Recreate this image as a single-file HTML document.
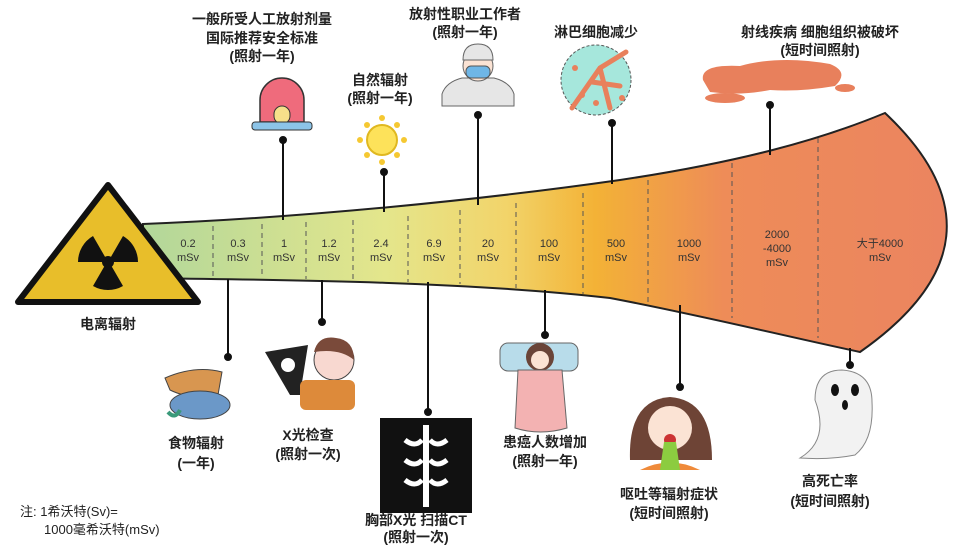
<!DOCTYPE html>
<html><head><meta charset="utf-8"><style>
html,body{margin:0;padding:0;background:#fff;width:962px;height:546px;overflow:hidden}
svg{display:block}
text{font-family:"Liberation Sans","Noto Sans CJK SC",sans-serif;fill:#222}
.t{font-size:14px;font-weight:bold;text-anchor:middle}
.s{font-size:11px;text-anchor:middle;fill:#333}
</style></head><body>
<svg width="962" height="546" viewBox="0 0 962 546" xmlns="http://www.w3.org/2000/svg">
<defs>
<linearGradient id="g" x1="143" y1="0" x2="950" y2="0" gradientUnits="userSpaceOnUse">
<stop offset="0" stop-color="#b2d79a"/>
<stop offset="0.3" stop-color="#e4e68c"/>
<stop offset="0.45" stop-color="#f2d46a"/>
<stop offset="0.56" stop-color="#f3b236"/>
<stop offset="0.72" stop-color="#ee8c58"/>
<stop offset="1" stop-color="#eb8460"/>
</linearGradient>
</defs>
<!-- funnel -->
<path d="M143,224 C300,218 480,200 620,180 C740,162 820,140 885,113 Q1020,240 860,352 C780,335 700,315 610,298 C470,282 300,280 143,278 Z" fill="url(#g)" stroke="#222" stroke-width="2"/>
<g stroke="#555" stroke-width="1" stroke-dasharray="5,4">
<line x1="213" y1="226" x2="213" y2="278"/><line x1="262" y1="224" x2="262" y2="278"/>
<line x1="306" y1="222" x2="306" y2="279"/><line x1="353" y1="220" x2="353" y2="280"/>
<line x1="408" y1="216" x2="408" y2="282"/><line x1="460" y1="210" x2="460" y2="284"/>
<line x1="516" y1="203" x2="516" y2="288"/><line x1="583" y1="193" x2="583" y2="294"/>
<line x1="648" y1="180" x2="648" y2="302"/><line x1="732" y1="163" x2="732" y2="318"/>
<line x1="818" y1="138" x2="818" y2="338"/>
</g>
<g class="s">
<text x="188" y="247" class="s">0.2</text><text x="188" y="261" class="s">mSv</text>
<text x="238" y="247" class="s">0.3</text><text x="238" y="261" class="s">mSv</text>
<text x="284" y="247" class="s">1</text><text x="284" y="261" class="s">mSv</text>
<text x="329" y="247" class="s">1.2</text><text x="329" y="261" class="s">mSv</text>
<text x="381" y="247" class="s">2.4</text><text x="381" y="261" class="s">mSv</text>
<text x="434" y="247" class="s">6.9</text><text x="434" y="261" class="s">mSv</text>
<text x="488" y="247" class="s">20</text><text x="488" y="261" class="s">mSv</text>
<text x="549" y="247" class="s">100</text><text x="549" y="261" class="s">mSv</text>
<text x="616" y="247" class="s">500</text><text x="616" y="261" class="s">mSv</text>
<text x="689" y="247" class="s">1000</text><text x="689" y="261" class="s">mSv</text>
<text x="777" y="238" class="s">2000</text><text x="777" y="252" class="s">-4000</text><text x="777" y="266" class="s">mSv</text>
<text x="880" y="247" class="s">大于4000</text><text x="880" y="261" class="s">mSv</text>
</g>
<!-- trefoil -->
<polygon points="108,185 198,302 18,302" fill="#e8be2a" stroke="#111" stroke-width="6" stroke-linejoin="round"/>
<g fill="#111">
<circle cx="108" cy="262" r="6"/>
<path d="M108,262 L93,236 A30,30 0 0 0 78,262 Z"/>
<path d="M108,262 L123,236 A30,30 0 0 1 138,262 Z"/>
<path d="M108,262 L93,288 A30,30 0 0 0 123,288 Z" transform="translate(0,-2)"/>
</g>
<text x="108" y="329" class="t">电离辐射</text>
<!-- connectors -->
<g stroke="#111" stroke-width="2" fill="#111">
<line x1="283" y1="140" x2="283" y2="220"/><circle cx="283" cy="140" r="3"/>
<line x1="384" y1="172" x2="384" y2="212"/><circle cx="384" cy="172" r="3"/>
<line x1="478" y1="115" x2="478" y2="205"/><circle cx="478" cy="115" r="3"/>
<line x1="612" y1="123" x2="612" y2="184"/><circle cx="612" cy="123" r="3"/>
<line x1="770" y1="105" x2="770" y2="155"/><circle cx="770" cy="105" r="3"/>
<line x1="228" y1="279" x2="228" y2="357"/><circle cx="228" cy="357" r="3"/>
<line x1="322" y1="280" x2="322" y2="322"/><circle cx="322" cy="322" r="3"/>
<line x1="428" y1="282" x2="428" y2="412"/><circle cx="428" cy="412" r="3"/>
<line x1="545" y1="290" x2="545" y2="335"/><circle cx="545" cy="335" r="3"/>
<line x1="680" y1="305" x2="680" y2="387"/><circle cx="680" cy="387" r="3"/>
<line x1="850" y1="348" x2="850" y2="365"/><circle cx="850" cy="365" r="3"/>
</g>
<!-- top labels -->
<text x="262" y="24" class="t">一般所受人工放射剂量</text>
<text x="262" y="43" class="t">国际推荐安全标准</text>
<text x="262" y="61" class="t">(照射一年)</text>
<text x="380" y="85" class="t">自然辐射</text>
<text x="380" y="103" class="t">(照射一年)</text>
<text x="465" y="19" class="t">放射性职业工作者</text>
<text x="465" y="37" class="t">(照射一年)</text>
<text x="596" y="37" class="t">淋巴细胞减少</text>
<text x="820" y="37" class="t">射线疾病 细胞组织被破坏</text>
<text x="820" y="55" class="t">(短时间照射)</text>
<!-- siren -->
<path d="M260,122 L260,100 A22,22 0 0 1 304,100 L304,122 Z" fill="#ef6b7c" stroke="#333" stroke-width="1.5"/>
<rect x="274" y="106" width="16" height="18" rx="8" fill="#f6e08a" stroke="#333"/>
<rect x="252" y="122" width="60" height="8" rx="3" fill="#8cc4e8" stroke="#333"/>
<!-- sun -->
<circle cx="382" cy="140" r="15" fill="#fde25a" stroke="#e0b820" stroke-width="2"/>
<g fill="#f5c832"><circle cx="382" cy="118" r="3"/><circle cx="382" cy="162" r="3"/><circle cx="360" cy="140" r="3"/><circle cx="404" cy="140" r="3"/><circle cx="367" cy="125" r="3"/><circle cx="397" cy="125" r="3"/><circle cx="367" cy="155" r="3"/><circle cx="397" cy="155" r="3"/></g>
<!-- worker -->
<path d="M442,106 L442,94 Q446,82 462,78 L494,78 Q510,82 514,94 L514,106 Z" fill="#e6e6e6" stroke="#666"/>
<circle cx="478" cy="66" r="15" fill="#fbe3d4" stroke="#666"/>
<path d="M463,60 Q463,44 478,44 Q493,44 493,60 Z" fill="#e6e6e6" stroke="#666"/>
<rect x="466" y="66" width="24" height="12" rx="5" fill="#6fb6e6" stroke="#555"/>
<!-- cells -->
<circle cx="596" cy="80" r="35" fill="#a6e7dc" stroke="#555" stroke-dasharray="3,2"/>
<path d="M572,108 L600,68 L626,52 M592,82 L620,86 M600,68 L610,108" stroke="#e8805c" stroke-width="5" fill="none" stroke-linecap="round"/>
<g fill="#e8805c"><circle cx="575" cy="68" r="3"/><circle cx="582" cy="95" r="3"/><circle cx="622" cy="98" r="3"/><circle cx="596" cy="103" r="3"/></g>
<!-- blob -->
<path d="M703,80 Q700,64 740,66 Q780,55 830,64 Q850,72 835,86 Q800,92 770,90 Q740,96 710,92 Z" fill="#e8805c"/>
<ellipse cx="725" cy="98" rx="20" ry="5" fill="#e8805c"/><ellipse cx="845" cy="88" rx="10" ry="4" fill="#e8805c"/>
<!-- fish -->
<path d="M165,378 Q195,365 222,372 L218,395 Q190,400 170,390 Z" fill="#d89650" stroke="#444"/>
<ellipse cx="200" cy="405" rx="30" ry="14" fill="#6b98c8" stroke="#444"/>
<path d="M168,412 Q175,420 180,410" stroke="#3a9a7a" stroke-width="4" fill="none"/>
<text x="196" y="448" class="t">食物辐射</text><text x="196" y="468" class="t">(一年)</text>
<!-- xray check -->
<path d="M265,352 L308,345 L300,395 L290,395 Z" fill="#222"/>
<circle cx="288" cy="365" r="7" fill="#fff"/>
<circle cx="334" cy="360" r="20" fill="#f8d8d0" stroke="#444"/>
<path d="M314,352 Q318,335 336,338 Q354,340 354,360 Q340,348 314,352" fill="#7a4a3a"/>
<rect x="300" y="380" width="55" height="30" rx="6" fill="#dd8a3a"/>
<text x="308" y="440" class="t">X光检查</text><text x="308" y="459" class="t">(照射一次)</text>
<!-- chest xray -->
<rect x="380" y="418" width="92" height="95" fill="#111"/>
<rect x="423" y="425" width="6" height="82" fill="#fff"/>
<g stroke="#fff" stroke-width="5" fill="none"><path d="M405,440 Q415,448 422,440"/><path d="M430,440 Q437,448 447,440"/><path d="M405,460 Q415,468 422,460"/><path d="M430,460 Q437,468 447,460"/><path d="M405,480 Q415,488 422,480"/><path d="M430,480 Q437,488 447,480"/></g>
<text x="416" y="525" class="t">胸部X光 扫描CT</text><text x="416" y="542" class="t">(照射一次)</text>
<!-- sick -->
<rect x="500" y="343" width="78" height="28" rx="8" fill="#b8dcea" stroke="#666"/>
<circle cx="540" cy="357" r="14" fill="#6a4438"/>
<circle cx="540" cy="360" r="9" fill="#fbe3d4"/>
<path d="M518,370 L562,370 L567,428 Q540,436 515,428 Z" fill="#f3b2b2" stroke="#666"/>
<text x="545" y="447" class="t">患癌人数增加</text><text x="545" y="466" class="t">(照射一年)</text>
<!-- vomit -->
<path d="M630,460 Q628,400 670,397 Q712,400 712,460 Z" fill="#6e4436"/>
<circle cx="670" cy="428" r="22" fill="#fbe3d4"/>
<path d="M640,470 Q670,455 700,470 Z" fill="#ef8a3a"/>
<circle cx="670" cy="440" r="6" fill="#c33"/>
<path d="M664,442 L676,442 L680,470 L660,470 Z" fill="#8ccc40"/>
<text x="669" y="499" class="t">呕吐等辐射症状</text><text x="669" y="518" class="t">(短时间照射)</text>
<!-- ghost -->
<path d="M815,400 Q815,370 842,370 Q872,372 872,402 Q874,440 855,455 Q830,460 800,458 Q830,440 815,400 Z" fill="#f2f2f2" stroke="#888"/>
<ellipse cx="835" cy="390" rx="4" ry="6" fill="#111"/><ellipse cx="855" cy="390" rx="4" ry="6" fill="#111"/><ellipse cx="845" cy="405" rx="3" ry="5" fill="#111"/>
<text x="830" y="486" class="t">高死亡率</text><text x="830" y="506" class="t">(短时间照射)</text>
<!-- note -->
<text x="20" y="516" style="font-size:13px">注: 1希沃特(Sv)=</text>
<text x="44" y="534" style="font-size:13px">1000毫希沃特(mSv)</text>
</svg>
</body></html>
